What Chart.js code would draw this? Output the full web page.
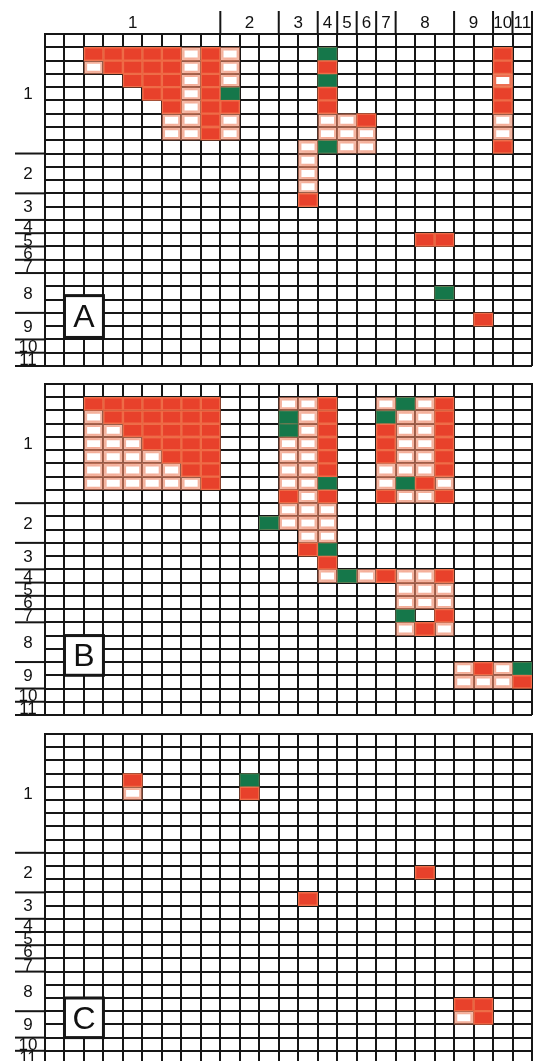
<!DOCTYPE html>
<html>
<head>
<meta charset="utf-8">
<script src="https://cdn.jsdelivr.net/npm/chart.js@4.4.1/dist/chart.umd.min.js"></script>
<style>
  html, body { margin: 0; padding: 0; background: #fff; overflow: hidden; }
  canvas { position: absolute; left: 0; }
</style>
</head>
<body>
<canvas id="panelA" width="533" height="370" style="top:0px"></canvas>
<canvas id="panelB" width="533" height="340" style="top:380px"></canvas>
<canvas id="panelC" width="533" height="340" style="top:730px"></canvas>
<script>
// same grouping on rows and columns (25 x 25)
const groupLabels = ["1", "2", "3", "4", "5", "6", "7", "8", "9", "10", "11"];
const groupSizes = [9, 3, 2, 1, 1, 1, 1, 3, 2, 1, 1];

// cells as [row, [columns]]
const aRed = [
    [1, [2, 3, 4, 5, 6, 8, 23]],
    [2, [3, 4, 5, 6, 8, 14, 23]],
    [3, [4, 5, 6, 8, 23]],
    [4, [5, 6, 8, 14, 23]],
    [5, [6, 8, 9, 14, 23]],
    [6, [8, 16]],
    [7, [8]],
    [8, [23]],
    [12, [13]],
    [15, [19, 20]],
    [21, [22]]
];
const aGreen = [[1, [14]], [3, [14]], [4, [9]], [8, [14]], [19, [20]]];
const aPale = [
    [1, [7, 9]],
    [2, [2, 7, 9]],
    [3, [7, 9, 23]],
    [4, [7]],
    [5, [7]],
    [6, [6, 7, 9, 14, 15, 23]],
    [7, [6, 7, 9, 14, 15, 16, 23]],
    [8, [13, 15, 16]],
    [9, [13]],
    [10, [13]],
    [11, [13]]
];

const bRed = [
    [1, [2, 3, 4, 5, 6, 7, 8, 14, 20]],
    [2, [3, 4, 5, 6, 7, 8, 14, 20]],
    [3, [4, 5, 6, 7, 8, 14, 17, 20]],
    [4, [5, 6, 7, 8, 14, 17, 20]],
    [5, [6, 7, 8, 14, 17, 20]],
    [6, [7, 8, 14, 20]],
    [7, [8, 19]],
    [8, [12, 14, 17, 20]],
    [12, [13]],
    [13, [14]],
    [14, [17, 20]],
    [17, [20]],
    [18, [19]],
    [21, [22]],
    [22, [24]]
];
const bGreen = [
    [1, [18]], [2, [12, 17]], [3, [12]], [7, [14, 18]], [10, [11]],
    [12, [14]], [14, [15]], [17, [18]], [21, [24]]
];
const bPale = [
    [1, [12, 13, 17, 19]],
    [2, [2, 13, 18, 19]],
    [3, [2, 3, 13, 18, 19]],
    [4, [2, 3, 4, 12, 13, 18, 19]],
    [5, [2, 3, 4, 5, 12, 13, 18, 19]],
    [6, [2, 3, 4, 5, 6, 12, 13, 17, 18, 19]],
    [7, [2, 3, 4, 5, 6, 7, 12, 13, 17, 20]],
    [8, [13, 18, 19]],
    [9, [12, 13, 14]],
    [10, [12, 13, 14]],
    [11, [13, 14]],
    [14, [14, 16, 18, 19]],
    [15, [18, 19, 20]],
    [16, [18, 19, 20]],
    [18, [18, 20]],
    [21, [21, 23]],
    [22, [21, 22, 23]]
];

const cRed = [[3, [4]], [4, [10]], [10, [19]], [12, [13]], [20, [21, 22]], [21, [22]]];
const cGreen = [[3, [10]]];
const cPale = [[4, [4]], [21, [21]]];

const rowKeys = Array.from({ length: 25 }, (_, i) => "r" + i);

function toCells(list) {
    const out = [];
    list.forEach(([r, cols]) => cols.forEach(c => out.push({ y: "r" + r, x: [c, c + 1] })));
    return out;
}

const LINE = "#161616";

// soft halo round the coloured cells
const glowPlugin = {
    id: "glow",
    beforeDatasetDraw(chart, args) {
        const ctx = chart.ctx;
        ctx.save();
        ctx.shadowColor = "rgba(238,120,85,0.6)";
        ctx.shadowBlur = 7;
    },
    afterDatasetDraw(chart) {
        chart.ctx.restore();
    }
};

// group numbers, group dividers and the panel letter
const groupPlugin = {
    id: "groupLabels",
    afterDraw(chart, args, opts) {
        const ctx = chart.ctx;
        const xs = chart.scales.x;
        const ys = chart.scales.y;
        const area = chart.chartArea;
        ctx.save();
        ctx.strokeStyle = LINE;
        ctx.lineWidth = 2;
        ctx.fillStyle = "#111";
        ctx.font = '17px "Liberation Sans", Arial, sans-serif';
        ctx.textAlign = "center";
        ctx.textBaseline = "middle";

        let start = 0;
        groupSizes.forEach((n, i) => {
            const end = start + n;
            const y0 = ys.getPixelForValue(start - 0.5);
            const y1 = ys.getPixelForValue(end - 0.5);
            ctx.fillText(groupLabels[i], 28, (y0 + y1) / 2 + 1);
            ctx.beginPath();
            ctx.moveTo(15, y1);
            ctx.lineTo(area.left, y1);
            ctx.stroke();

            if (opts.top) {
                const x0 = xs.getPixelForValue(start);
                const x1 = xs.getPixelForValue(end);
                ctx.fillText(groupLabels[i], (x0 + x1) / 2, area.top - 11);
                ctx.beginPath();
                ctx.moveTo(x1, area.top - 23);
                ctx.lineTo(x1, area.top);
                ctx.stroke();
            }
            start = end;
        });

        if (opts.letter) {
            const bx0 = xs.getPixelForValue(1);
            const bx1 = xs.getPixelForValue(3);
            const by0 = ys.getPixelForValue(opts.boxRows[0] - 0.5);
            const by1 = ys.getPixelForValue(opts.boxRows[1] - 0.5);
            ctx.fillStyle = "#fff";
            ctx.fillRect(bx0, by0, bx1 - bx0, by1 - by0);
            ctx.lineWidth = 3;
            ctx.strokeRect(bx0, by0, bx1 - bx0, by1 - by0);
            ctx.fillStyle = "#111";
            ctx.font = '32px "Liberation Sans", Arial, sans-serif';
            ctx.fillText(opts.letter, (bx0 + bx1) / 2, (by0 + by1) / 2 + 2);
        }
        ctx.restore();
    }
};

function drawPanel(id, red, green, pale, letter, boxRows, top, padding) {
    const common = {
        grouped: false,
        barPercentage: 1,
        categoryPercentage: 1,
        borderSkipped: false
    };
    return new Chart(document.getElementById(id), {
        type: "bar",
        data: {
            labels: rowKeys,
            datasets: [
                Object.assign({
                    label: "pale",
                    data: toCells(pale),
                    backgroundColor: "#ffffff",
                    borderColor: "rgba(240,145,115,0.5)",
                    borderWidth: 3.5
                }, common),
                Object.assign({
                    label: "red",
                    data: toCells(red),
                    backgroundColor: "#e8412b",
                    borderColor: "#ef6a45",
                    borderWidth: 1.5
                }, common),
                Object.assign({
                    label: "green",
                    data: toCells(green),
                    backgroundColor: "#15774a",
                    borderColor: "#2b7d52",
                    borderWidth: 1
                }, common)
            ]
        },
        options: {
            indexAxis: "y",
            responsive: false,
            animation: false,
            layout: { padding: padding },
            plugins: {
                legend: { display: false },
                tooltip: { enabled: false },
                groupLabels: { top: top, letter: letter, boxRows: boxRows }
            },
            scales: {
                x: {
                    type: "linear",
                    position: "top",
                    min: 0,
                    max: 25,
                    z: 1,
                    ticks: { display: false, stepSize: 1 },
                    grid: { color: LINE, lineWidth: 2, drawTicks: false },
                    border: { color: LINE, width: 2 }
                },
                y: {
                    type: "category",
                    offset: true,
                    z: 1,
                    ticks: { display: false },
                    grid: { offset: true, color: LINE, lineWidth: 2, drawTicks: false },
                    border: { color: LINE, width: 2 }
                }
            }
        },
        plugins: [glowPlugin, groupPlugin]
    });
}

drawPanel("panelA", aRed, aGreen, aPale, "A", [19.7, 22.85], true,
    { top: 34, left: 45, right: 1, bottom: 4 });
drawPanel("panelB", bRed, bGreen, bPale, "B", [19, 22], false,
    { top: 4, left: 45, right: 1, bottom: 5 });
drawPanel("panelC", cRed, cGreen, cPale, "C", [20, 23], false,
    { top: 4, left: 45, right: 1, bottom: 6 });
</script>
</body>
</html>
